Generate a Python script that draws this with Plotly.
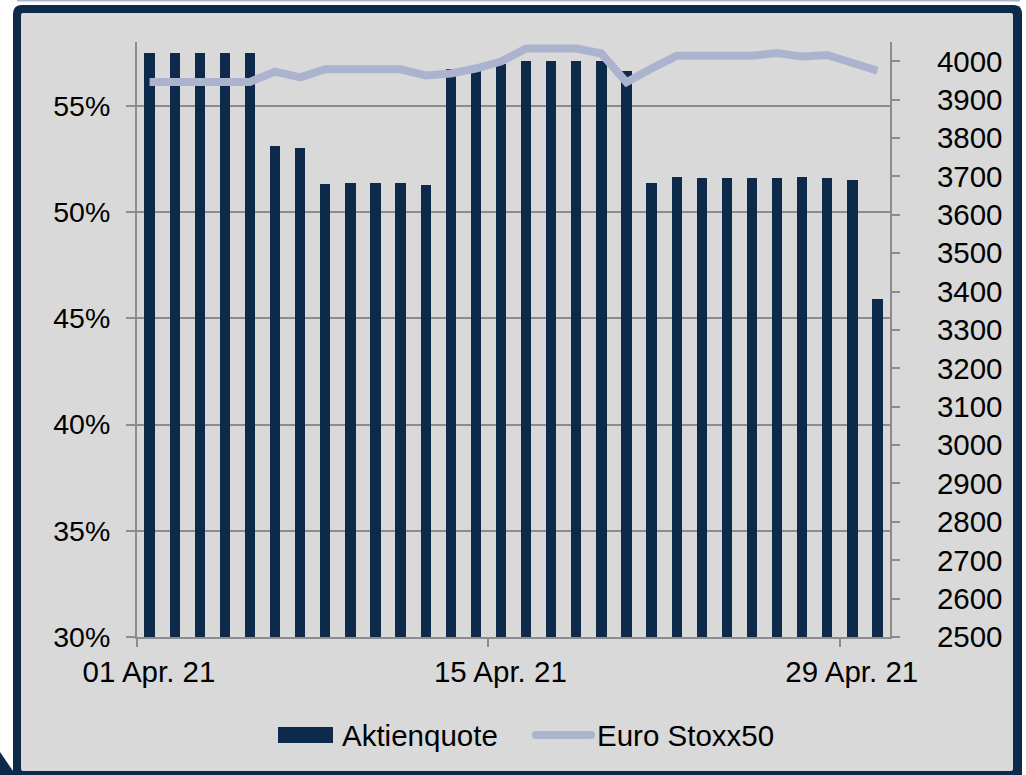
import plotly.graph_objects as go

# ---------------- data ----------------
dates = [
    "2021-04-01", "2021-04-02", "2021-04-03", "2021-04-04", "2021-04-05",
    "2021-04-06", "2021-04-07", "2021-04-08", "2021-04-09", "2021-04-10",
    "2021-04-11", "2021-04-12", "2021-04-13", "2021-04-14", "2021-04-15",
    "2021-04-16", "2021-04-17", "2021-04-18", "2021-04-19", "2021-04-20",
    "2021-04-21", "2021-04-22", "2021-04-23", "2021-04-24", "2021-04-25",
    "2021-04-26", "2021-04-27", "2021-04-28", "2021-04-29", "2021-04-30",
]
aktienquote = [
    0.5746, 0.5746, 0.5746, 0.5746, 0.5746,
    0.5309, 0.5300, 0.5131, 0.5136, 0.5136,
    0.5136, 0.5125, 0.5675, 0.5680, 0.5695,
    0.5712, 0.5712, 0.5712, 0.5712, 0.5663,
    0.5138, 0.5163, 0.5160, 0.5160, 0.5160,
    0.5160, 0.5166, 0.5160, 0.5149, 0.4590,
]
euro_stoxx50 = [
    3946, 3946, 3946, 3946, 3946,
    3973, 3958, 3979, 3979, 3979,
    3979, 3963, 3968, 3981, 3999,
    4033, 4033, 4033, 4020, 3945,
    3981, 4014, 4014, 4014, 4014,
    4021, 4012, 4016, 3996, 3975,
]
series_names = ["Aktienquote", "Euro Stoxx50"]

# ---------------- style ----------------
NAVY = "#0E2A4B"
LAVENDER = "#ACB3CE"
BG = "#D9D9D9"
GRID = "#8C8C8C"
FONT = "Liberation Sans, Arial, sans-serif"
DAY_MS = 86400000

W, H = 1026, 775
ML, MR, MT, MB = 137, 136, 42, 138
PW, PH = W - ML - MR, H - MT - MB


def px(x):
    return (x - ML) / PW


def py(y):
    return (H - MB - y) / PH


def rounded_rect(x0, y0, x1, y1, r):
    pts = [
        f"M {px(x0 + r)},{py(y0)}",
        f"L {px(x1 - r)},{py(y0)}",
        f"Q {px(x1)},{py(y0)} {px(x1)},{py(y0 + r)}",
        f"L {px(x1)},{py(y1 - r)}",
        f"Q {px(x1)},{py(y1)} {px(x1 - r)},{py(y1)}",
        f"L {px(x0 + r)},{py(y1)}",
        f"Q {px(x0)},{py(y1)} {px(x0)},{py(y1 - r)}",
        f"L {px(x0)},{py(y0 + r)}",
        f"Q {px(x0)},{py(y0)} {px(x0 + r)},{py(y0)}",
        "Z",
    ]
    return " ".join(pts)


fig = go.Figure()
fig.add_trace(go.Bar(
    x=dates, y=aktienquote, name=series_names[0],
    xperiod=DAY_MS, xperiodalignment="middle",
    width=0.41 * DAY_MS,
    marker=dict(color=NAVY, line=dict(width=0)),
    yaxis="y", showlegend=False,
))
fig.add_trace(go.Scatter(
    x=dates, y=euro_stoxx50, name=series_names[1],
    xperiod=DAY_MS, xperiodalignment="middle",
    mode="lines", line=dict(color=LAVENDER, width=8),
    yaxis="y2", showlegend=False,
))

shapes = [
    # thin line at top edge
    dict(type="line", xref="paper", yref="paper",
         x0=px(17), x1=px(1020), y0=py(0.5), y1=py(0.5),
         line=dict(color=LAVENDER, width=2), layer="below"),
    # dark frame
    dict(type="path", xref="paper", yref="paper",
         path=rounded_rect(13, 5, 1022, 786, 9),
         fillcolor=NAVY, line=dict(width=0), layer="below"),
    # grey panel
    dict(type="path", xref="paper", yref="paper",
         path=rounded_rect(21, 13, 1013, 771, 2),
         fillcolor=BG, line=dict(width=0), layer="below"),
    # small dark triangle bottom-left
    dict(type="path", xref="paper", yref="paper",
         path=f"M {px(0)},{py(752)} L {px(13)},{py(771)} L {px(13)},{py(775)} L {px(0)},{py(775)} Z",
         fillcolor=NAVY, line=dict(width=0), layer="below"),
    # legend swatches
    dict(type="rect", xref="paper", yref="paper",
         x0=px(278), x1=px(333), y0=py(727), y1=py(743),
         fillcolor=NAVY, line=dict(width=0), layer="above"),
    dict(type="path", xref="paper", yref="paper",
         path=rounded_rect(532, 731, 595, 739, 4),
         fillcolor=LAVENDER, line=dict(width=0), layer="above"),
]

annotations = [
    dict(text=series_names[0], xref="paper", yref="paper",
         x=px(340), y=py(735), xanchor="left", yanchor="middle",
         showarrow=False, font=dict(size=29.5, color="black")),
    dict(text=series_names[1], xref="paper", yref="paper",
         x=px(595), y=py(735), xanchor="left", yanchor="middle",
         showarrow=False, font=dict(size=29.5, color="black")),
]

fig.update_layout(
    width=W, height=H,
    margin=dict(l=ML, r=MR, t=MT, b=MB, pad=0),
    paper_bgcolor="white",
    plot_bgcolor="rgba(0,0,0,0)",
    font=dict(family=FONT, size=28, color="black"),
    bargap=0,
    shapes=shapes,
    annotations=annotations,
    showlegend=False,
    xaxis=dict(
        type="date",
        range=["2021-04-01", "2021-05-01"],
        tickmode="linear", tick0="2021-04-01", dtick=14 * DAY_MS,
        tickformat="%d %b. %y",
        ticks="outside", ticklen=8, tickwidth=2, tickcolor=GRID,
        showline=True, linecolor=GRID, linewidth=2,
        showgrid=False, zeroline=False,
        ticklabelshift=12,
        tickfont=dict(size=29.5),
    ),
    yaxis=dict(
        range=[0.30, 0.58], dtick=0.05, tickformat=".0%",
        ticks="outside", ticklen=9, tickwidth=2, tickcolor=GRID,
        showline=True, linecolor=GRID, linewidth=2,
        showgrid=True, gridcolor=GRID, gridwidth=2,
        zeroline=False, ticklabelstandoff=10,
        tickfont=dict(size=28.5),
    ),
    yaxis2=dict(
        overlaying="y", side="right",
        range=[2500, 4050], dtick=100, tickformat="d",
        ticks="outside", ticklen=8, tickwidth=2, tickcolor=GRID,
        showline=True, linecolor=GRID, linewidth=2,
        showgrid=False, zeroline=False, ticklabelstandoff=31,
        tickfont=dict(size=29.5),
    ),
)

fig.write_html(
    "out.html",
    config={"displayModeBar": False},
    post_script="document.body.style.margin='0px';document.body.style.overflow='hidden';",
)
